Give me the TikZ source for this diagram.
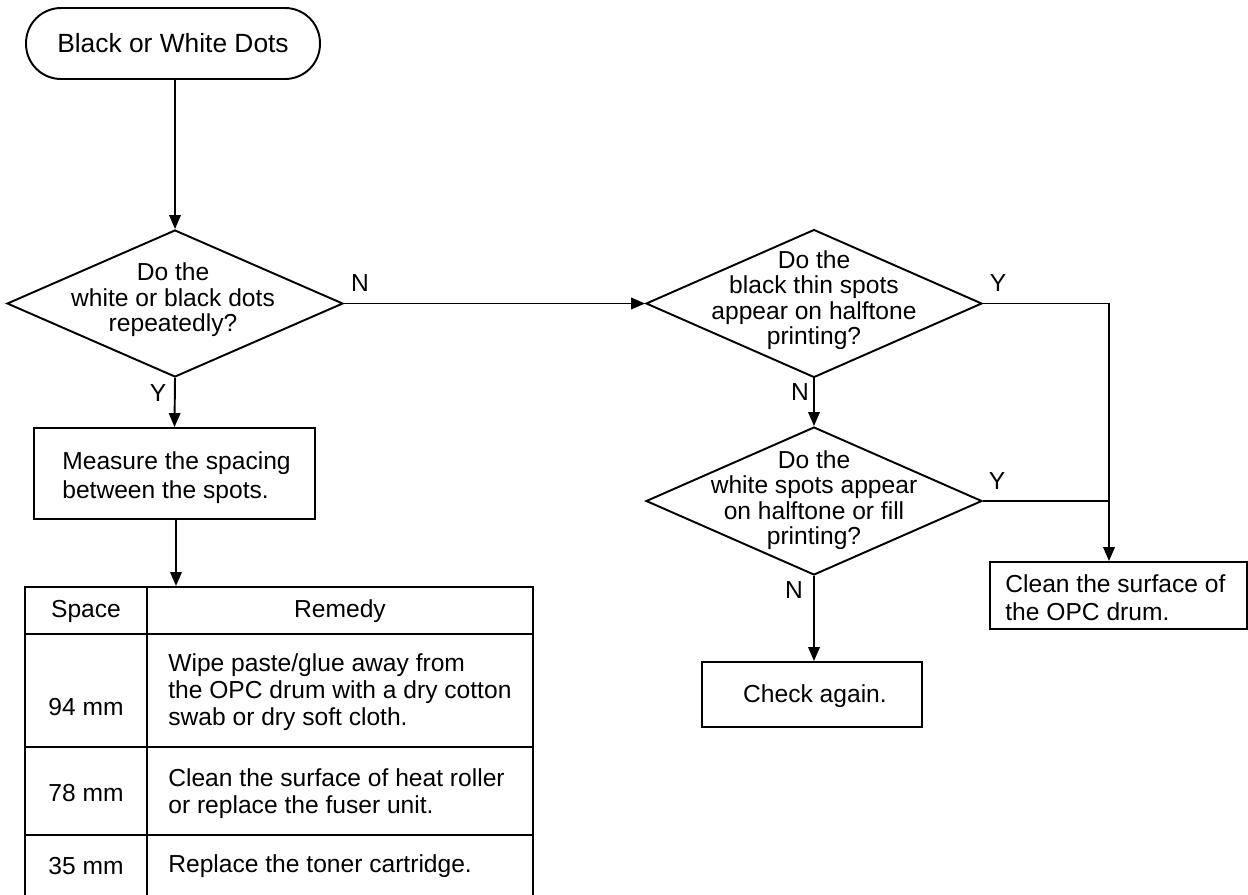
\documentclass[tikz,border=0pt]{standalone}
\usepackage{fontspec}
\setmainfont{Liberation Sans}
\usetikzlibrary{shapes.geometric,arrows.meta}
\newcommand{\fs}{\fontsize{14}{14.5}\selectfont}
\newcommand{\fsb}{\fontsize{14}{16.4}\selectfont}
\newcommand{\fst}{\fontsize{14}{15.3}\selectfont}
\tikzset{
  ln/.style={line width=1.1pt},
  box/.style={draw, ln, rectangle, inner sep=0pt},
  dia/.style={draw, ln, diamond, inner sep=0pt},
  arr/.style={ln, -{Triangle[length=0.28cm,width=0.23cm]}},
  lbl/.style={inner sep=0pt, font=\fs},
  txt/.style={inner sep=0pt, font=\fs, align=center},
  ltxt/.style={inner sep=0pt, font=\fst, align=left, anchor=west}
}
\begin{document}
\begin{tikzpicture}[x=0.02cm,y=-0.02cm]
\clip (0,0) rectangle (1248,894);
\fill[white] (0,0) rectangle (1248,894);

% start
\node[box, rounded corners=0.7cm, minimum width=5.88cm, minimum height=1.42cm,
      font=\fontsize{15}{16}\selectfont] (start) at (173,43.5) {Black or White Dots};

% decisions
\node[dia, minimum width=6.72cm, minimum height=2.94cm] (d1) at (175,303.5) {};
\node[txt] (d1t) at (173,300) {Do the\\white or black dots\\repeatedly?};

\node[dia, minimum width=6.72cm, minimum height=2.96cm] (d2) at (814,303.5) {};
\node[txt] (d2t) at (814,300) {Do the\\black thin spots\\appear on halftone\\printing?};

\node[dia, minimum width=6.72cm, minimum height=2.96cm] (d3) at (814,501) {};
\node[txt] (d3t) at (814,500) {Do the\\white spots appear\\on halftone or fill\\printing?};

% boxes
\node[box, minimum width=5.62cm, minimum height=1.82cm] (b1) at (174.5,473.5) {};
\node[ltxt, font=\fsb] (b1t) at (62,477.5) {Measure the spacing\\between the spots.};

\node[box, minimum width=4.4cm, minimum height=1.3cm] (chk) at (812,694.5) {};
\node[txt] (chkt) at (815,696) {Check again.};

\node[box, minimum width=5.14cm, minimum height=1.34cm] (cln) at (1118.5,595.5) {};
\node[ltxt, font=\fontsize{14}{15.8}\selectfont] (clnt) at (1005,598) {Clean the surface of\\the OPC drum.};

% table
\node[box, anchor=north west, minimum width=10.16cm, minimum height=6.2cm] (tbl) at (24,586) {};
\draw[ln] (147,586) -- (147,900);
\draw[ln] (24,634) -- (532,634);
\draw[ln] (24,747) -- (532,747);
\draw[ln] (24,835) -- (532,835);
\node[txt] (h1) at (86,611) {Space};
\node[txt] (h2) at (340,611) {Remedy};
\node[txt] (s1) at (86,707) {94 mm};
\node[ltxt] (r1) at (168,692) {Wipe paste/glue away from\\the OPC drum with a dry cotton\\swab or dry soft cloth.};
\node[txt] (s2) at (86,793) {78 mm};
\node[ltxt] (r2) at (168,794) {Clean the surface of heat roller\\or replace the fuser unit.};
\node[txt] (s3) at (86,866) {35 mm};
\node[ltxt] (r3) at (168,866) {Replace the toner cartridge.};

% connectors
\coordinate (j) at (1109,501);
\draw[arr] (d1.north |- start.south) -- (d1.north);
\draw[arr] (d1.east) -- (d2.west);
\draw[arr] (d1.south) -- (b1.north);
\draw[arr] ([xshift=0.03cm]b1.south) -- ([xshift=0.03cm]b1.south |- tbl.north);
\draw[arr] (d2.south) -- (d3.north);
\draw[ln] (d2.east) -| (j);
\draw[ln] (d3.east) -- (j);
\draw[arr] (j) -- (j |- cln.north);
\draw[arr] (d3.south) -- (d3.south |- chk.north);

% labels
\node[lbl] (n1) at (360,283) {N};
\node[lbl] (y1) at (158,393) {Y};
\node[lbl] (y2) at (998,283) {Y};
\node[lbl] (n2) at (800,392) {N};
\node[lbl] (y3) at (997,481) {Y};
\node[lbl] (n3) at (794,590) {N};
\end{tikzpicture}
\end{document}
